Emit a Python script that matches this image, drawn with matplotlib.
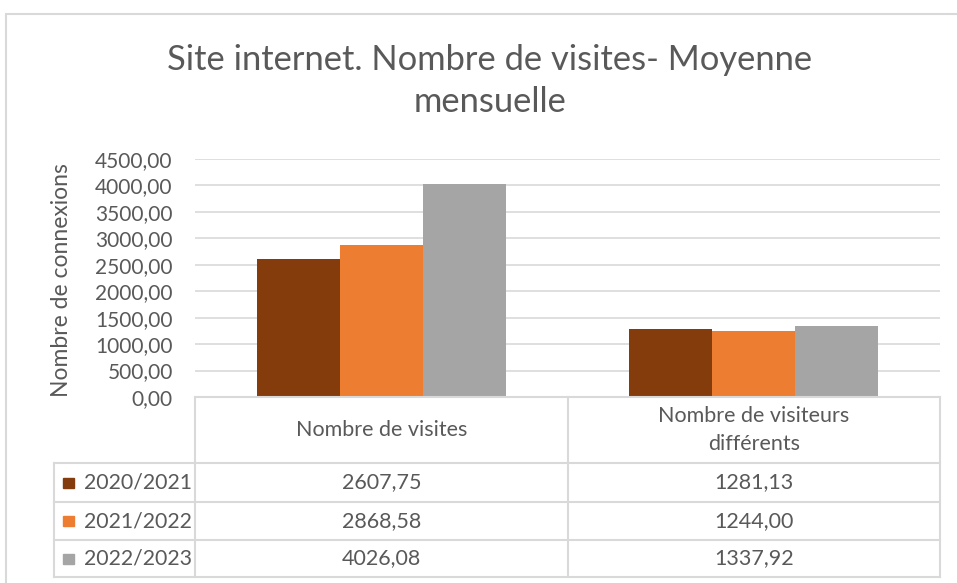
import matplotlib
matplotlib.use("Agg")
import matplotlib.pyplot as plt
from matplotlib.lines import Line2D
from matplotlib.patches import Rectangle

categories = ["Nombre de visites", "Nombre de visiteurs\ndifférents"]
series_names = ["2020/2021", "2021/2022", "2022/2023"]
values = {
    "2020/2021": [2607.75, 1281.13],
    "2021/2022": [2868.58, 1244.00],
    "2022/2023": [4026.08, 1337.92],
}
colors = ["#843C0C", "#ED7D31", "#A5A5A5"]
yticks = [0, 500, 1000, 1500, 2000, 2500, 3000, 3500, 4000, 4500]

W, H = 957, 583
plt.rcParams['font.family'] = ['Lato', 'DejaVu Sans']
fig = plt.figure(figsize=(W / 100, H / 100), dpi=100)

def fx(x):
    return x / W

def fy(y):
    return 1 - y / H

TXT = "#595959"
GRID = "#D9D9D9"

# outer chart frame
fig.add_artist(Rectangle((fx(6), fy(590)), fx(1000) - fx(6), fy(14) - fy(590),
                         transform=fig.transFigure, fill=False, ec="#D9D9D9", lw=1.5))

# plot area
x0, x1, ytop, ybot = 195, 940, 159, 397
ax = fig.add_axes([fx(x0), fy(ybot), fx(x1) - fx(x0), fy(ytop) - fy(ybot)])
bw = 83 / 372.5
n = len(series_names)
for i, (name, c) in enumerate(zip(series_names, colors)):
    xs = [k + (i - (n - 1) / 2) * bw for k in range(len(categories))]
    ax.bar(xs, values[name], width=bw, color=c, zorder=3)
ax.set_xlim(-0.5, len(categories) - 0.5)
ax.set_ylim(0, 4500)
ax.set_yticks(yticks)
ax.set_yticklabels([f"{v:.2f}".replace(".", ",") for v in yticks], color=TXT, fontsize=15)
ax.tick_params(axis='y', length=0, pad=16)
ax.set_xticks([])
for s in ax.spines.values():
    s.set_visible(False)
ax.grid(axis='y', color=GRID, lw=1.2, zorder=0)
ax.set_axisbelow(True)

fig.text(fx(62), fy(280), "Nombre de connexions", rotation=90, ha='center', va='center',
         color=TXT, fontsize=16.5)

fig.text(fx(490), fy(60), "Site internet. Nombre de visites- Moyenne", ha='center', va='center',
         color=TXT, fontsize=24.8)
fig.text(fx(490), fy(102), "mensuelle", ha='center', va='center',
         color=TXT, fontsize=24.8)

# data table
def hline(y, xa, xb):
    fig.add_artist(Line2D([fx(xa), fx(xb)], [fy(y), fy(y)], transform=fig.transFigure,
                          color=GRID, lw=1.5))

def vline(x, ya, yb):
    fig.add_artist(Line2D([fx(x), fx(x)], [fy(ya), fy(yb)], transform=fig.transFigure,
                          color=GRID, lw=1.5))

col_edges = [195, 568, 940]
row_edges = [463, 502, 540, 577]
hline(397, 195, 940)
for y in row_edges:
    hline(y, 54, 940)
for x in col_edges:
    vline(x, 397, 577)
vline(54, 463, 577)

for k, cat in enumerate(categories):
    cx = (col_edges[k] + col_edges[k + 1]) / 2
    fig.text(fx(cx), fy(430), cat, ha='center', va='center', color=TXT, fontsize=15.5,
             linespacing=1.55)
    for i, name in enumerate(series_names):
        cy = (row_edges[i] + row_edges[i + 1]) / 2
        fig.text(fx(cx), fy(cy), f"{values[name][k]:.2f}".replace(".", ","), ha='center',
                 va='center', color=TXT, fontsize=15.5)

for i, (name, c) in enumerate(zip(series_names, colors)):
    cy = (row_edges[i] + row_edges[i + 1]) / 2
    fig.add_artist(Rectangle((fx(63), fy(cy + 5)), fx(11), fy(0) - fy(10), transform=fig.transFigure,
                             color=c))
    fig.text(fx(84), fy(cy), name, ha='left', va='center', color=TXT, fontsize=15.3)

fig.savefig("out.png", dpi=100, facecolor="white")
